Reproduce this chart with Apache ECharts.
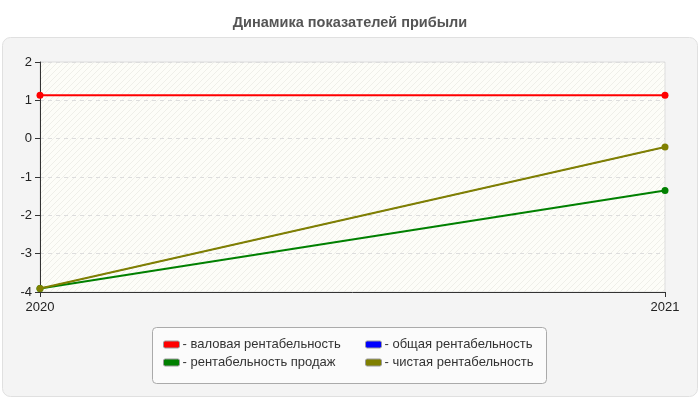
<!DOCTYPE html>
<html>
<head>
<meta charset="utf-8">
<script src="https://cdn.jsdelivr.net/npm/echarts@6/dist/echarts.min.js"></script>
<style>
  html, body { margin: 0; padding: 0; background: #fff; }
  #chart { width: 700px; height: 400px; }
</style>
</head>
<body>
<div id="chart"></div>
<script>
// data
const years = ['2020', '2021'];
const grossProfit = [1.13, 1.13];
const totalProfit = [-3.91, -0.22];
const salesProfit = [-3.91, -1.35];
const netProfit = [-3.91, -0.22];

const names = ['валовая рентабельность', 'общая рентабельность', 'рентабельность продаж', 'чистая рентабельность'];
const colors = ['#ff0000', '#0000ff', '#008000', '#808000'];
const values = [grossProfit, totalProfit, salesProfit, netProfit];
const font = 'Liberation Sans, Arial, sans-serif';

// light diagonal hatch for the plot background
function hatch() {
    const c = document.createElement('canvas');
    c.width = 6;
    c.height = 6;
    const ctx = c.getContext('2d');
    ctx.fillStyle = '#fdfdf8';
    ctx.fillRect(0, 0, 6, 6);
    ctx.strokeStyle = '#efefe9';
    ctx.lineWidth = 1;
    ctx.beginPath();
    ctx.moveTo(0, 6);
    ctx.lineTo(6, 0);
    ctx.moveTo(-1, 1);
    ctx.lineTo(1, -1);
    ctx.moveTo(5, 7);
    ctx.lineTo(7, 5);
    ctx.stroke();
    return c;
}

const chart = echarts.init(document.getElementById('chart'));

const series = names.map((name, i) => ({
    name,
    type: 'line',
    data: values[i],
    symbol: 'circle',
    symbolSize: i === 1 ? 4 : 7,
    lineStyle: { width: i === 1 ? 1 : 2, color: colors[i] },
    itemStyle: { color: colors[i] },
    emphasis: { disabled: true },
    z: 3 + i,
}));

const legendBase = {
    orient: 'vertical',
    top: 338,
    padding: 0,
    itemWidth: 16,
    itemHeight: 7,
    itemGap: 5,
    icon: 'roundRect',
    formatter: '- {name}',
    itemStyle: { borderColor: '#999', borderWidth: 1 },
    textStyle: { fontSize: 13, color: '#333', fontFamily: font, padding: [0, 0, 0, -2] },
    selectedMode: false,
};

chart.setOption({
    animation: false,
    color: colors,
    title: {
        text: 'Динамика показателей прибыли',
        left: 'center',
        top: 10,
        textStyle: { fontSize: 14.5, fontWeight: 'bold', color: '#555', fontFamily: font },
    },
    graphic: [
        {
            type: 'rect',
            z: -10,
            shape: { x: 2.5, y: 37.5, width: 695, height: 359, r: 8 },
            style: { fill: '#f4f4f4', stroke: '#e0e0e0', lineWidth: 1 },
            silent: true,
        },
        {
            type: 'rect',
            z: -5,
            shape: { x: 152.5, y: 327.5, width: 394, height: 56, r: 4 },
            style: { fill: '#fbfbfb', stroke: '#aaa', lineWidth: 1 },
            silent: true,
        },
    ],
    legend: [
        Object.assign({}, legendBase, { left: 163, data: [names[0], names[2]] }),
        Object.assign({}, legendBase, { left: 365, data: [names[1], names[3]] }),
    ],
    grid: {
        left: 40,
        right: 35,
        top: 62,
        bottom: 108,
        show: true,
        backgroundColor: { image: hatch(), repeat: 'repeat' },
        borderColor: '#ddd',
        borderWidth: 1,
    },
    xAxis: {
        type: 'category',
        data: years,
        boundaryGap: false,
        axisLine: { onZero: false, lineStyle: { color: '#333' } },
        axisTick: { show: true, length: 5, lineStyle: { color: '#333' } },
        axisLabel: { fontSize: 13, color: '#222', margin: 9, fontFamily: font },
        splitLine: { show: false },
    },
    yAxis: {
        type: 'value',
        min: -4,
        max: 2,
        interval: 1,
        axisLine: { show: true, lineStyle: { color: '#333' } },
        axisTick: { show: true, length: 5, lineStyle: { color: '#333' } },
        axisLabel: { fontSize: 13, color: '#222', margin: 8, fontFamily: font },
        splitLine: { show: true, lineStyle: { color: '#ddd', type: [4, 4] } },
    },
    series,
});
</script>
</body>
</html>
